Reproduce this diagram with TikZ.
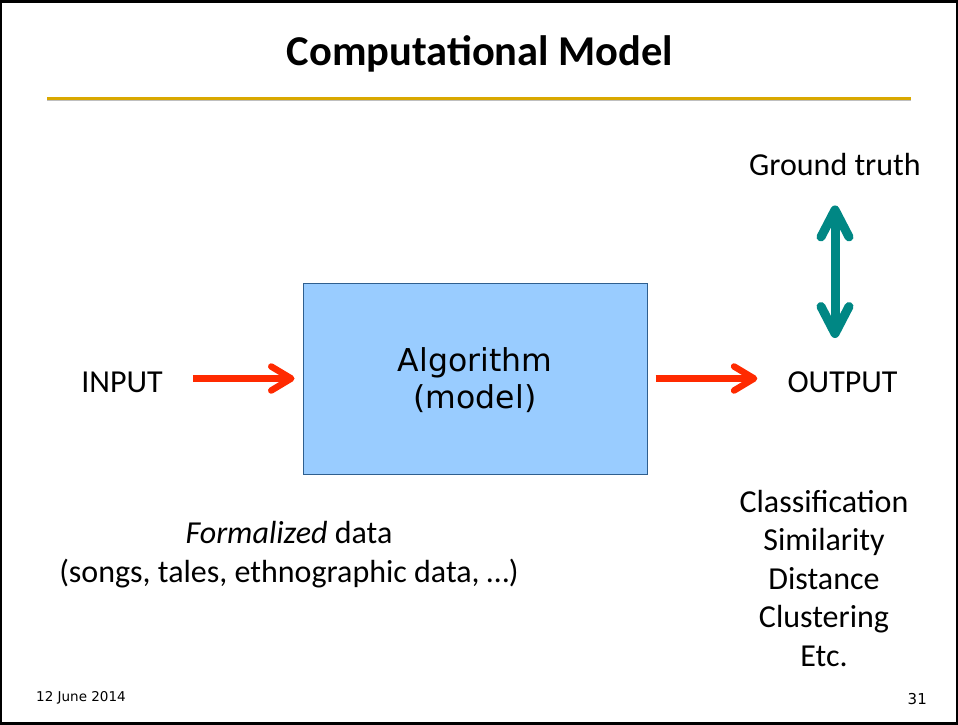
\documentclass[tikz,border=0pt]{standalone}
\usepackage{fontspec}
\setmainfont{Carlito}
\newfontfamily\dejavu{DejaVu Sans}
\usetikzlibrary{arrows.meta}
\definecolor{arrowred}{HTML}{FF2A00}
\definecolor{tealarr}{HTML}{008784}
\definecolor{boxfill}{HTML}{99CCFF}
\definecolor{boxdraw}{HTML}{2F5F8F}
\definecolor{goldline}{HTML}{D9A800}
\begin{document}
\begin{tikzpicture}[x=1pt,y=-1pt,
  lbl/.style={font=\fontsize{32}{38.5}\selectfont, anchor=base, inner sep=0pt, align=center},
  algbox/.style={draw=boxdraw, line width=1pt, fill=boxfill, minimum width=344pt, minimum height=191pt, inner sep=0pt},
  algtext/.style={anchor=base, inner sep=0pt, align=center, font=\dejavu\fontsize{31.5}{36.5}\selectfont},
  redarrow/.style={draw=arrowred, line width=6.5pt, -{Straight Barb[length=20pt,width=24pt,line cap=round,line join=round]}},
  tealarrow/.style={draw=tealarr, line width=9pt, {Straight Barb[length=27pt,width=28pt,line cap=round,line join=round]}-{Straight Barb[length=27pt,width=28pt,line cap=round,line join=round]}},
  foot/.style={font=\dejavu\fontsize{13.5}{16}\selectfont, inner sep=0pt}
]
\useasboundingbox (0,0) rectangle (958,725);
\draw[line width=2pt] (1,1) rectangle (957,724);
\draw[line width=2.5pt] (0,723) -- (958,723);
\draw[line width=2.5pt] (0,1.5) -- (958,1.5);
% title
\node[font=\bfseries\fontsize{42.5}{50}\selectfont, anchor=base, inner sep=0pt] (title) at (480,66) {Computational Model};
\coordinate (gl) at (47,98);
\coordinate (gr) at (911,98);
\draw[line width=2.5pt, black!25] ([yshift=-2pt]gl) -- ([yshift=-2pt]gr);
\draw[line width=3pt, goldline] (gl) -- (gr);
% box
\node[algbox] (alg) at (475,378.5) {};
\node[algtext] (algt) at (475,408) {Algorithm\\(model)};
% labels
\node[lbl] (input) at (122,392) {INPUT};
\node[lbl] (output) at (842.5,392) {OUTPUT};
\node[lbl] (gt) at (835,175) {Ground truth};
\node[lbl] (formal) at (289,582) {\textit{Formalized} data\\(songs, tales, ethnographic data, …)};
\node[lbl] (results) at (824,666) {Classification\\Similarity\\Distance\\Clustering\\Etc.};
% arrows
\draw[redarrow] ([xshift=30pt]input.east |- alg.west) -- ([xshift=-8pt]alg.west);
\draw[redarrow] ([xshift=8pt]alg.east) -- ([xshift=-30pt]output.west |- alg.east);
\draw[tealarrow] ([yshift=-30pt]gt.south) -- ([yshift=33pt]gt.south |- output.north);
% footer
\node[foot, anchor=base west] (date) at (36,701) {12 June 2014};
\node[foot, font=\dejavu\fontsize{15}{18}\selectfont, anchor=base east] (page) at (927,704) {31};
\end{tikzpicture}
\end{document}
